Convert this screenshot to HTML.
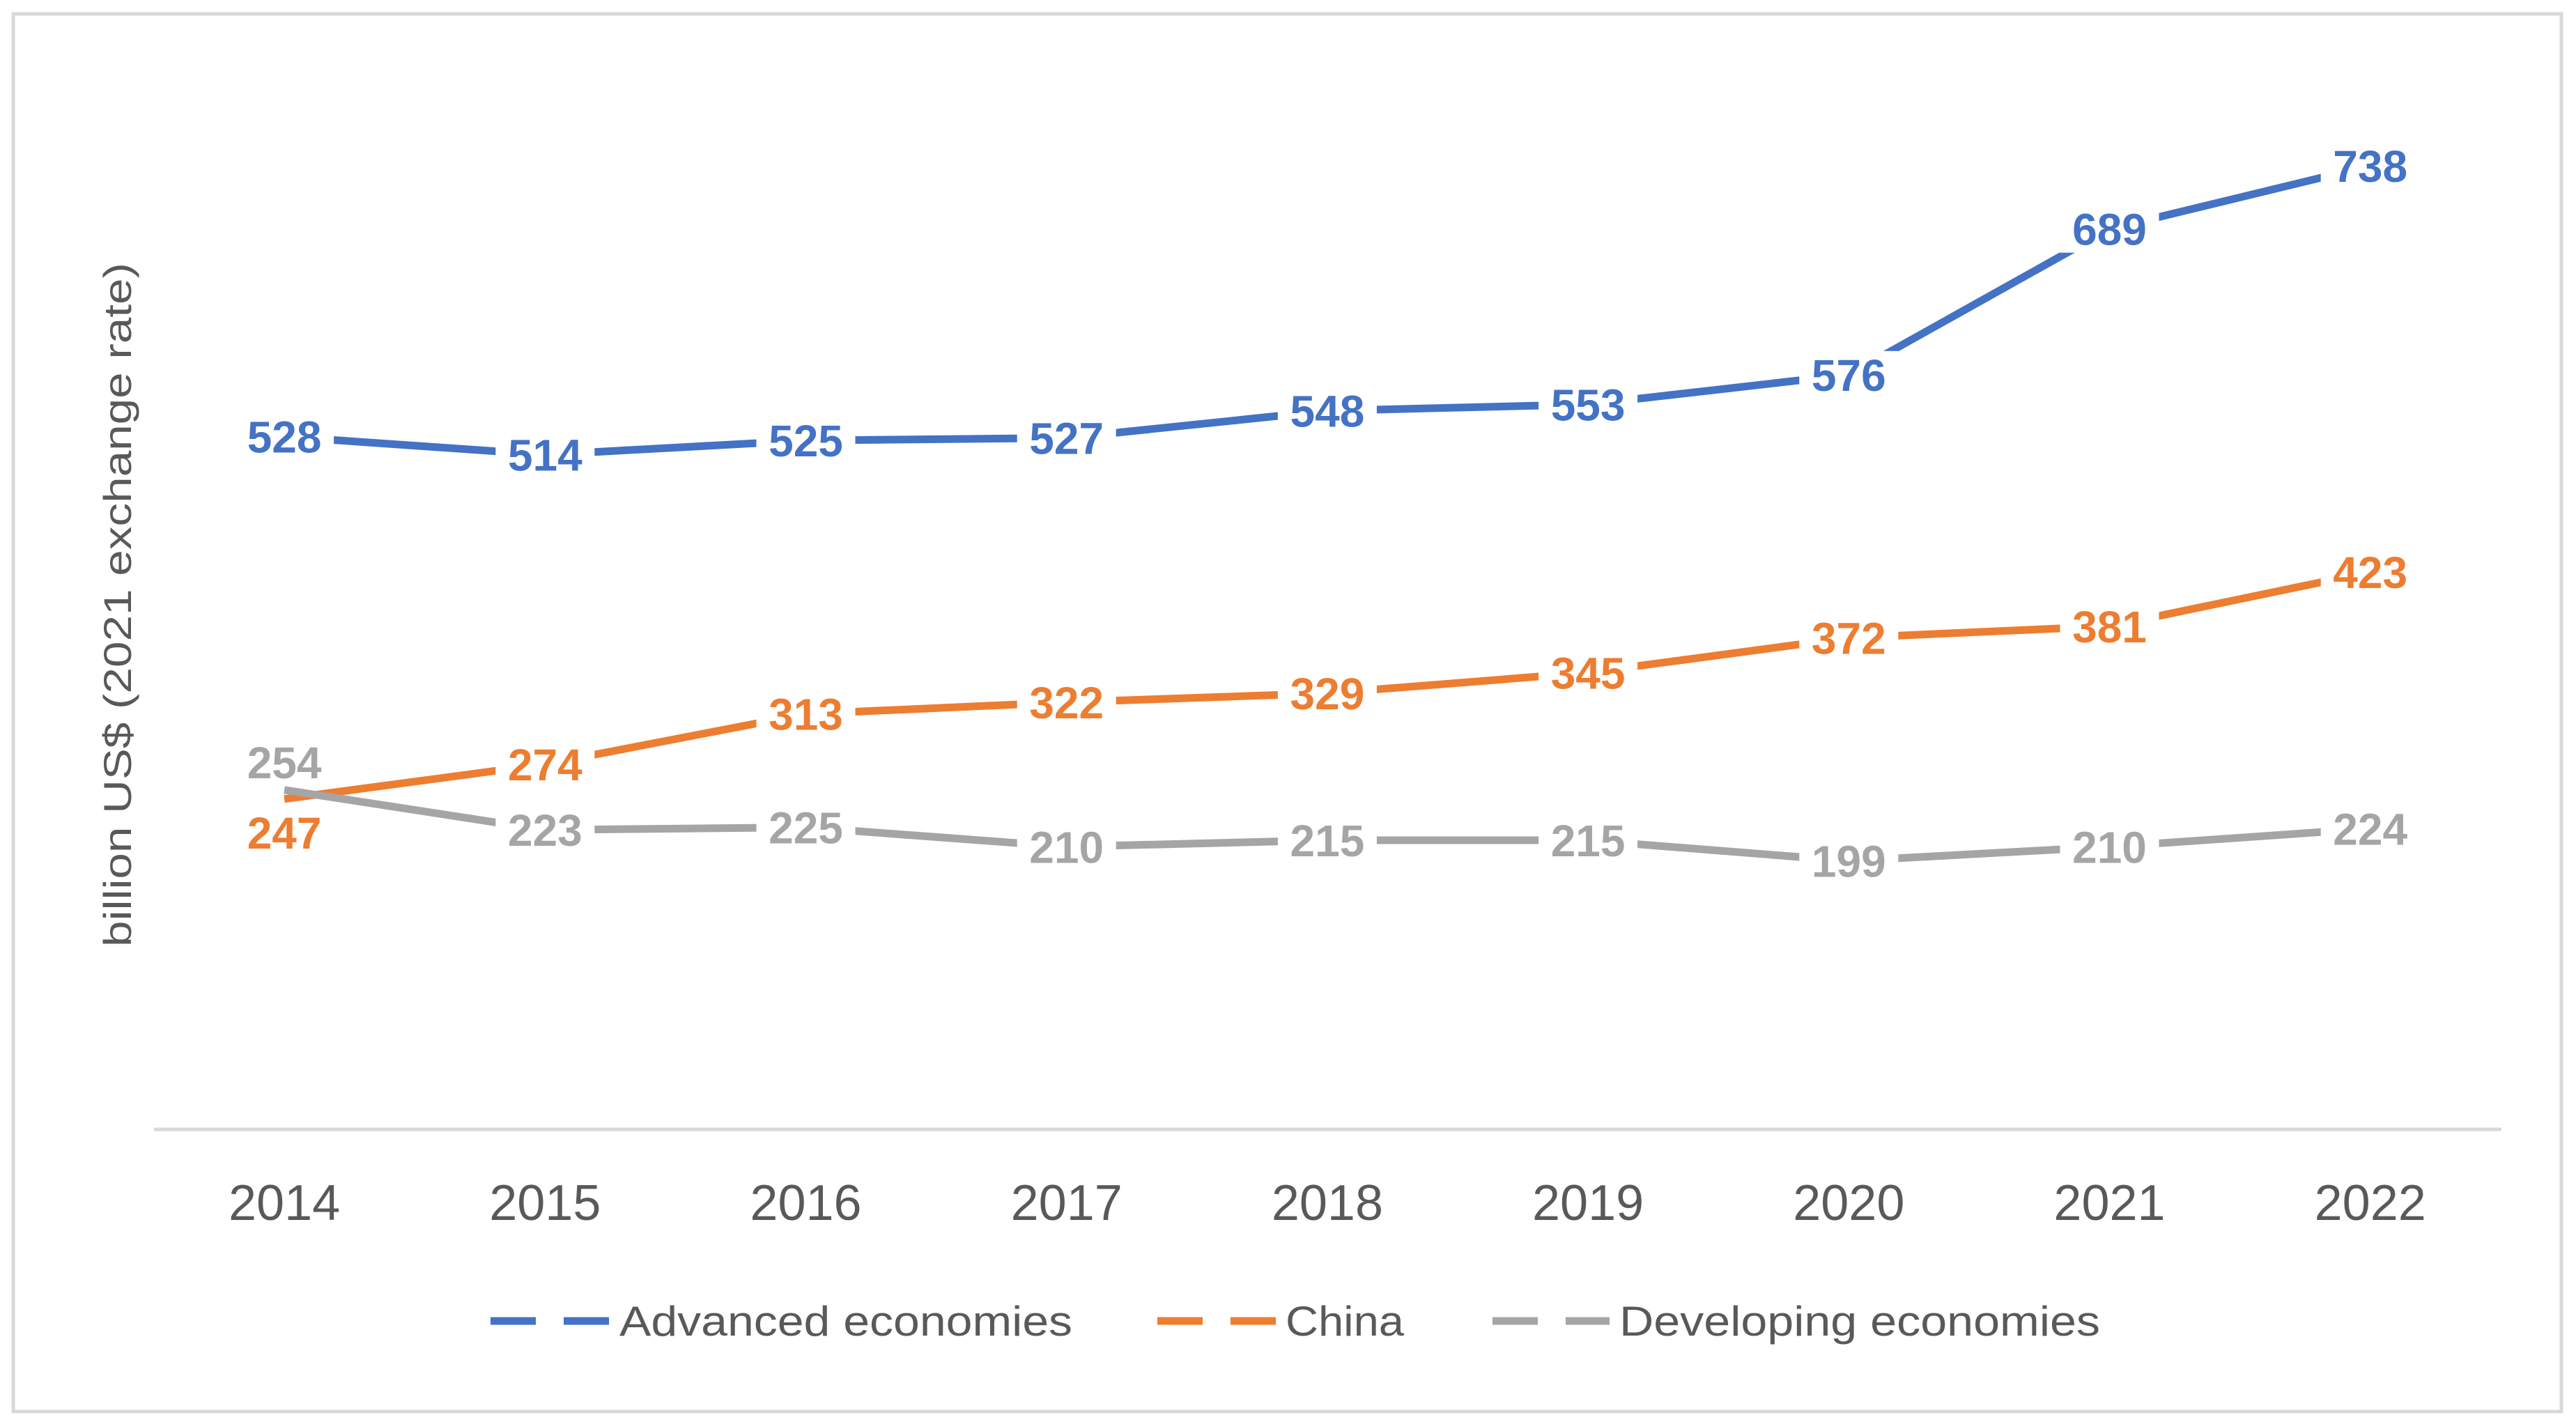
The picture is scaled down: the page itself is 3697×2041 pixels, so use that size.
<!DOCTYPE html>
<html><head><meta charset="utf-8"><style>
html,body{margin:0;padding:0;background:#fff}
svg{display:block}
text{font-family:"Liberation Sans",sans-serif}
</style></head><body>
<svg id="chart" width="3697" height="2041" viewBox="0 0 3697 2041" xmlns="http://www.w3.org/2000/svg">
<rect x="19" y="20" width="3657" height="2006" fill="#fff" stroke="#d9d9d9" stroke-width="5"/>
<line x1="221" y1="1621" x2="3590" y2="1621" stroke="#d9d9d9" stroke-width="5"/>
<text transform="translate(188,868) rotate(-90)" text-anchor="middle" font-size="56" fill="#595959" textLength="982" lengthAdjust="spacingAndGlyphs">billion US$ (2021 exchange rate)</text>
<g id="lines"></g>
<g id="labels"></g>
<g id="xticks"></g>
<g id="legend">
<line x1="704" y1="1896" x2="876" y2="1896" stroke="#4472C4" stroke-width="11" stroke-dasharray="65,40"/>
<text x="889" y="1917" font-size="60" fill="#595959" textLength="650" lengthAdjust="spacingAndGlyphs">Advanced economies</text>
<line x1="1661" y1="1896" x2="1831" y2="1896" stroke="#ED7D31" stroke-width="11" stroke-dasharray="65,40"/>
<text x="1845" y="1917" font-size="60" fill="#595959" textLength="170" lengthAdjust="spacingAndGlyphs">China</text>
<line x1="2142" y1="1896" x2="2310" y2="1896" stroke="#A5A5A5" stroke-width="11" stroke-dasharray="65,40"/>
<text x="2324" y="1917" font-size="60" fill="#595959" textLength="690" lengthAdjust="spacingAndGlyphs">Developing economies</text>
</g>
</svg>
<script>
const categories = ["2014","2015","2016","2017","2018","2019","2020","2021","2022"];
const advanced = [528,514,525,527,548,553,576,689,738];
const china = [247,274,313,322,329,345,372,381,423];
const developing = [254,223,225,210,215,215,199,210,224];

const NS = "http://www.w3.org/2000/svg";
const plotLeft = 221, bandW = 374.2;
function xPos(i){ return plotLeft + bandW*(i+0.5); }
function yPos(v){ return 1604 - v*1.851; }

const linesG = document.getElementById('lines');
const labelsG = document.getElementById('labels');
const xG = document.getElementById('xticks');

categories.forEach((c,i)=>{
  const t = document.createElementNS(NS,'text');
  
  
  t.setAttribute('x', xPos(i));
  t.setAttribute('y', 1751);
  t.setAttribute('text-anchor','middle');
  t.setAttribute('font-size','72');
  t.setAttribute('fill','#595959');
  t.textContent = c;
  xG.appendChild(t);
});

const series = [
  {name:'advanced', vals:advanced, color:'#4472C4', off:[0,0,0,0,0,0,0,0,0]},
  {name:'china', vals:china, color:'#ED7D31', off:[48,0,0,0,0,0,0,0,0]},
  {name:'developing', vals:developing, color:'#A5A5A5', off:[-40,0,0,0,0,0,0,0,0]}
];

series.forEach(s=>{
  const pts = s.vals.map((v,i)=>xPos(i)+','+yPos(v)).join(' ');
  const pl = document.createElementNS(NS,'polyline');
  
  
  pl.setAttribute('points', pts);
  pl.setAttribute('fill','none');
  pl.setAttribute('stroke', s.color);
  pl.setAttribute('stroke-width','11');
  pl.setAttribute('stroke-linejoin','round');
  linesG.appendChild(pl);
});

series.forEach(s=>{
  s.vals.forEach((v,i)=>{
    const cx = xPos(i), cy = yPos(v) + s.off[i];
    if (s.off[i] === 0) {
      const r = document.createElementNS(NS,'rect');
      
      
      r.setAttribute('x', cx-71);
      r.setAttribute('y', cy-34);
      r.setAttribute('width', 142);
      r.setAttribute('height', 68);
      r.setAttribute('fill', '#fff');
      labelsG.appendChild(r);
    }
    const t = document.createElementNS(NS,'text');
    
    
    t.setAttribute('x', cx);
    t.setAttribute('y', cy+23);
    t.setAttribute('text-anchor','middle');
    t.setAttribute('font-size','64');
    t.setAttribute('font-weight', 'bold');
    t.setAttribute('fill', s.color);
    t.textContent = v;
    labelsG.appendChild(t);
  });
});
</script>
</body></html>
